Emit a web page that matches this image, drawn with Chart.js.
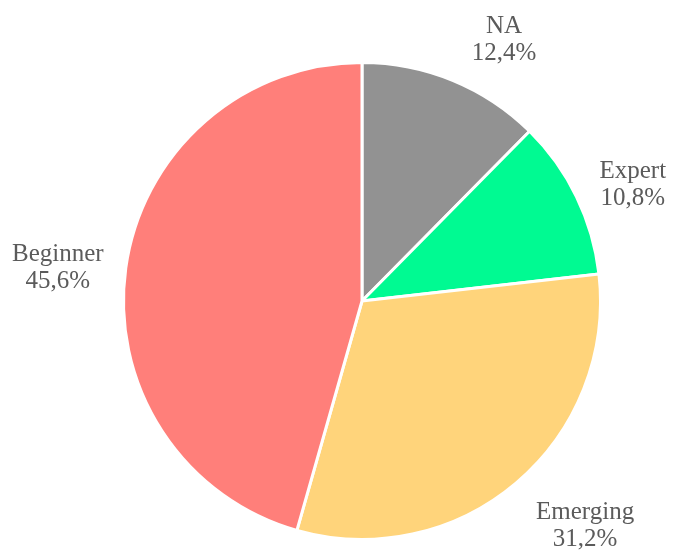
<!DOCTYPE html>
<html>
<head>
<meta charset="utf-8">
<script src="https://cdn.jsdelivr.net/npm/chart.js@4"></script>
<style>
  html, body { margin: 0; padding: 0; background: #fff; }
  #wrap { width: 676px; height: 550px; }
</style>
</head>
<body>
<div id="wrap"><canvas id="pieChart" width="676" height="550"></canvas></div>
<script>
const categories = ['NA', 'Expert', 'Emerging', 'Beginner'];
const shares = [12.4, 10.8, 31.2, 45.6];
const labelTexts = ['12,4%', '10,8%', '31,2%', '45,6%'];
const colours = ['#929292', '#00FA92', '#FFD47B', '#FF7F7A'];

// nudges for the outside labels (px)
const nudge = [[28, 16], [1, 15], [29, -4], [-7, 8]];

const outsideLabels = {
    id: 'outsideLabels',
    afterDatasetsDraw(chart) {
        const ctx = chart.ctx;
        const meta = chart.getDatasetMeta(0);
        ctx.save();
        ctx.font = '25px "Liberation Serif", "DejaVu Serif", serif';
        ctx.fillStyle = '#5b5b5b';
        ctx.textAlign = 'center';
        ctx.textBaseline = 'middle';
        meta.data.forEach(function(arc, i){
            const p = arc.getProps(['x', 'y', 'startAngle', 'endAngle', 'outerRadius'], true);
            const mid = (p.startAngle + p.endAngle) / 2;
            const d = 300;
            const x = p.x + Math.cos(mid) * d + nudge[i][0];
            const y = p.y + Math.sin(mid) * d + nudge[i][1];
            ctx.fillText(categories[i], x, y - 13);
            ctx.fillText(labelTexts[i], x, y + 14);
        });
        ctx.restore();
    }
};

new Chart(document.getElementById('pieChart'), {
    type: 'pie',
    data: {
        labels: categories,
        datasets: [{
            data: shares,
            backgroundColor: colours,
            borderColor: '#ffffff',
            borderWidth: 3
        }]
    },
    options: {
        responsive: false,
        animation: false,
        layout: { padding: { top: 61, bottom: 9, left: 48, right: 0 } },
        plugins: {
            legend: { display: false },
            tooltip: { enabled: false }
        }
    },
    plugins: [outsideLabels]
});
</script>
</body>
</html>
